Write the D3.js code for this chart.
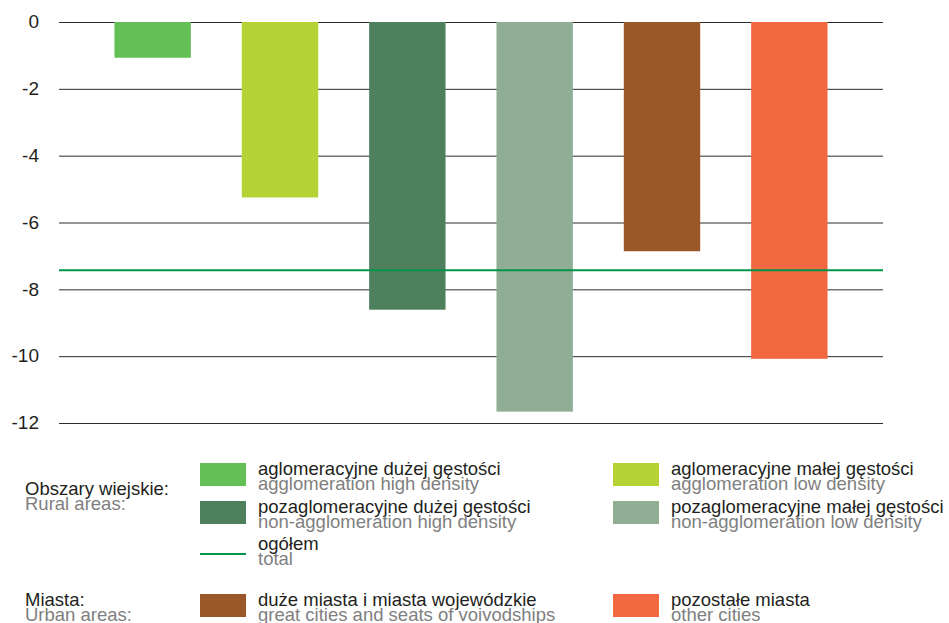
<!DOCTYPE html>
<html>
<head>
<meta charset="utf-8">
<script src="https://cdn.jsdelivr.net/npm/d3@7"></script>
<style>
  body { margin: 0; background: #fff; }
  text { font-family: "Liberation Sans", Arial, sans-serif; }
</style>
</head>
<body>
<script>
// chart values
const categories = ["aglomeracyjne dużej gęstości", "aglomeracyjne małej gęstości",
  "pozaglomeracyjne dużej gęstości", "pozaglomeracyjne małej gęstości",
  "duże miasta i miasta wojewódzkie", "pozostałe miasta"];
const englishNames = ["agglomeration high density", "agglomeration low density",
  "non-agglomeration high density", "non-agglomeration low density",
  "great cities and seats of voivodships", "other cities"];
const values = [-1.07, -5.25, -8.61, -11.66, -6.86, -10.08];
const colors = ["#65bf57", "#b5d334", "#4e805e", "#8fae95", "#9a5727", "#f26841"];
const total = -7.43;
const yTicks = [0, -2, -4, -6, -8, -10, -12];

const width = 949, height = 623;

const svg = d3.select("body").append("svg")
  .attr("width", width).attr("height", height);

const x = d3.scaleBand().domain(categories).range([89, 853])
  .paddingInner(0.4).paddingOuter(0.2);
const y = d3.scaleLinear().domain([-12, 0]).range([423, 22]);

// gridlines + tick labels
const yAxis = d3.axisLeft(y).tickValues(yTicks).tickSize(-(883 - 59)).tickFormat(d => d);
const gAxis = svg.append("g").attr("transform", "translate(59,0)").call(yAxis);
gAxis.select(".domain").remove();
gAxis.selectAll(".tick line").attr("stroke", "#2b2b2b").attr("stroke-width", 1);
gAxis.selectAll(".tick text")
  .attr("x", -20).attr("dy", "0.3em")
  .attr("fill", "#231f20").style("font-size", "19px");

// bars
svg.append("g").selectAll("rect").data(values).join("rect")
  .attr("x", (d, i) => x(categories[i]))
  .attr("y", y(0))
  .attr("width", x.bandwidth())
  .attr("height", d => y(d) - y(0))
  .attr("fill", (d, i) => colors[i]);

// total line
svg.append("line")
  .attr("x1", 59).attr("x2", 883)
  .attr("y1", y(total)).attr("y2", y(total))
  .attr("stroke", "#00934a").attr("stroke-width", 2);

// legend
const black = "#231f20", grey = "#808080";

function twoLines(xp, yp, pl, en) {
  const g = svg.append("g");
  g.append("text").attr("x", xp).attr("y", yp).text(pl)
    .attr("fill", black).style("font-size", "18.5px");
  g.append("text").attr("x", xp).attr("y", yp + 15).text(en)
    .attr("fill", grey).style("font-size", "18.5px");
}

twoLines(25, 495, "Obszary wiejskie:", "Rural areas:");
twoLines(25, 606, "Miasta:", "Urban areas:");

const legendItems = [
  { i: 0, x: 200, y: 463 },
  { i: 1, x: 613, y: 463 },
  { i: 2, x: 200, y: 501 },
  { i: 3, x: 613, y: 501 },
  { i: 4, x: 200, y: 594 },
  { i: 5, x: 613, y: 594 }
];

legendItems.forEach(it => {
  svg.append("rect").attr("x", it.x).attr("y", it.y)
    .attr("width", 46).attr("height", 23).attr("fill", colors[it.i]);
  twoLines(it.x + 58, it.y + 12, categories[it.i], englishNames[it.i]);
});

svg.append("line")
  .attr("x1", 200).attr("x2", 246).attr("y1", 554).attr("y2", 554)
  .attr("stroke", "#00934a").attr("stroke-width", 2);
twoLines(258, 550, "ogółem", "total");
</script>
</body>
</html>
